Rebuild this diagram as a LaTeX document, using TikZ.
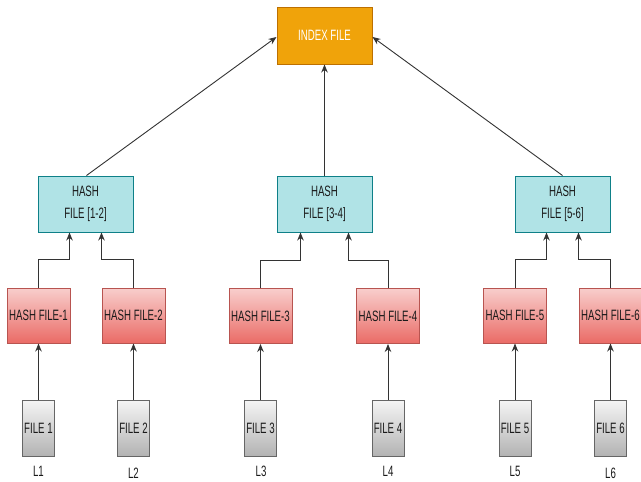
\documentclass[tikz,border=0pt]{standalone}
\usepackage{fontspec}
\setmainfont[FakeStretch=0.645]{Liberation Sans}
\usetikzlibrary{arrows.meta,calc}
\definecolor{idxfill}{HTML}{F0A30A}
\definecolor{idxdraw}{HTML}{BD7000}
\definecolor{hfill}{HTML}{B0E3E6}
\definecolor{hdraw}{HTML}{0E8088}
\definecolor{rtop}{HTML}{F8CECC}
\definecolor{rbot}{HTML}{EA6B66}
\definecolor{rdraw}{HTML}{B85450}
\definecolor{gtop}{HTML}{F5F5F5}
\definecolor{gbot}{HTML}{B3B3B3}
\definecolor{gdraw}{HTML}{666666}
\definecolor{txt}{HTML}{1A1A1A}
\definecolor{edge}{HTML}{333333}
\tikzset{
  base/.style={inner sep=0pt, line width=1pt, text=txt, font=\fontsize{15}{22}\selectfont, align=center},
  idxbox/.style={base, fill=idxfill, draw=idxdraw, minimum width=95pt, minimum height=57pt, text=white},
  hashbox/.style={base, fill=hfill, draw=hdraw, minimum width=95pt, minimum height=56pt},
  redbox/.style={base, top color=rtop, bottom color=rbot, draw=rdraw, minimum width=63pt, minimum height=55pt},
  filebox/.style={base, top color=gtop, bottom color=gbot, draw=gdraw, minimum width=32pt, minimum height=56pt},
  lbl/.style={inner sep=0pt, text=txt, font=\fontsize{15}{17}\selectfont},
  arr/.style={draw=edge, line width=0.9pt, -{Stealth[length=8pt,width=6.5pt]}}
}
\begin{document}
\begin{tikzpicture}[x=1pt,y=-1pt]
\useasboundingbox (0,0) rectangle (641,482);
\node[idxbox] (idx) at (324.5,35.5) {INDEX FILE};
\node[hashbox] (h12) at (85.5,204) {HASH\\FILE [1-2]};
\node[hashbox] (h34) at (324.5,204) {HASH\\FILE [3-4]};
\node[hashbox] (h56) at (562.5,204) {HASH\\FILE [5-6]};
\node[redbox] (r1) at (38.5,315.5) {HASH FILE-1};
\node[redbox] (r2) at (133.5,315.5) {HASH FILE-2};
\node[redbox] (r3) at (260.5,316) {HASH FILE-3};
\node[redbox] (r4) at (388,316) {HASH FILE-4};
\node[redbox] (r5) at (515,315.5) {HASH FILE-5};
\node[redbox] (r6) at (610.5,315.5) {HASH FILE-6};
\node[filebox] (f1) at (38.5,428) {FILE 1};
\node[filebox] (f2) at (133.5,428) {FILE 2};
\node[filebox] (f3) at (260.5,428) {FILE 3};
\node[filebox] (f4) at (388,428) {FILE 4};
\node[filebox] (f5) at (515,428) {FILE 5};
\node[filebox] (f6) at (610.5,428) {FILE 6};
\node[lbl] (l1) at (38.5,471) {L1};
\node[lbl] (l2) at (133.5,473) {L2};
\node[lbl] (l3) at (261,471) {L3};
\node[lbl] (l4) at (388,471) {L4};
\node[lbl] (l5) at (515,471) {L5};
\node[lbl] (l6) at (610.5,473) {L6};
% files to hash files
\foreach \i in {1,...,6} {
  \draw[arr] (f\i.north) -- (r\i.south);
}
% hash files to group hashes
\draw[arr] (r1.north) -- ++(0,-28) -| ([xshift=-16pt]h12.south);
\draw[arr] (r2.north) -- ++(0,-28) -| ([xshift=16pt]h12.south);
\draw[arr] (r3.north) -- ++(0,-28) -| ([xshift=-24pt]h34.south);
\draw[arr] (r4.north) -- ++(0,-28) -| ([xshift=24pt]h34.south);
\draw[arr] (r5.north) -- ++(0,-28) -| ([xshift=-16pt]h56.south);
\draw[arr] (r6.north) -- ++(0,-28) -| ([xshift=16pt]h56.south);
% group hashes to index
\draw[arr] ([xshift=1pt]h12.north) -- ([yshift=-1.5pt]idx.west);
\draw[arr] (h34.north) -- (idx.south);
\draw[arr] (h56.north) -- ([yshift=-1.5pt]idx.east);
\end{tikzpicture}
\end{document}
